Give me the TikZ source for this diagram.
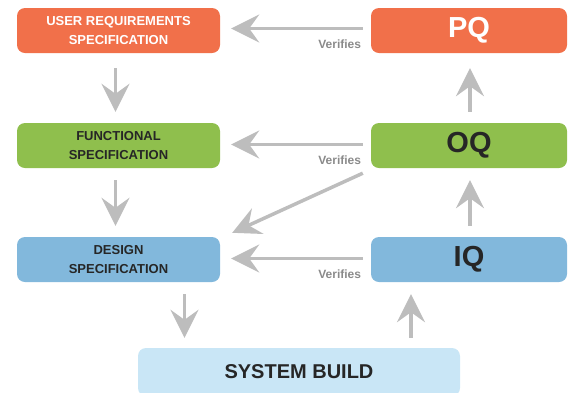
\documentclass[tikz,border=0pt]{standalone}
\usepackage{fontspec}
\setmainfont{Liberation Sans}
\usetikzlibrary{arrows.meta}
\definecolor{ursorange}{HTML}{F1704A}
\definecolor{specgreen}{HTML}{8FBF4D}
\definecolor{designblue}{HTML}{82B8DC}
\definecolor{buildblue}{HTML}{C9E6F6}
\definecolor{arrowgray}{HTML}{BDBDBD}
\definecolor{labelgray}{HTML}{8A8A8A}
\begin{document}
\begin{tikzpicture}[x=1pt,y=-1pt,
    box/.style={rounded corners=8pt, minimum height=45pt, inner sep=0pt,
      align=center, font=\bfseries, text=black!85},
    leftbox/.style={box, minimum width=203pt, font=\bfseries\fontsize{13}{19}\selectfont},
    rightbox/.style={box, minimum width=196pt, font=\bfseries\fontsize{29}{31}\selectfont},
    flow/.style={draw=arrowgray, line width=3.5pt,
      -{Stealth[length=28pt, width=28pt, inset=10pt]}},
    verifies/.style={pos=0, anchor=north east, yshift=-10pt, inner sep=0pt,
      text=labelgray, font=\bfseries\fontsize{12}{14}\selectfont}]
  \useasboundingbox (0,0) rectangle (571,392);
  \draw
    (118.5,30.5) node[leftbox, fill=ursorange, text=white] (urs){USER REQUIREMENTS\\SPECIFICATION}
    (118.5,145.5) node[leftbox, fill=specgreen] (fs){FUNCTIONAL\\SPECIFICATION}
    (118.5,259.5) node[leftbox, fill=designblue] (ds){DESIGN\\SPECIFICATION}
    (469,30.5) node[rightbox, fill=ursorange, text=white] (pq){PQ}
    (469,145.5) node[rightbox, fill=specgreen] (oq){OQ}
    (469,259.5) node[rightbox, fill=designblue] (iq){IQ}
    (299,372) node[box, fill=buildblue, minimum width=322pt, minimum height=48pt,
      font=\bfseries\fontsize{20}{22}\selectfont] (build){SYSTEM BUILD};
  \begin{scope}[flow]
    \draw ([xshift=-8pt,yshift=2pt]pq.west) -- ([xshift=11pt,yshift=2pt]urs.east)
      node[verifies]{Verifies};
    \draw ([xshift=-8pt,yshift=1pt]oq.west) -- ([xshift=11pt,yshift=1pt]fs.east)
      node[verifies]{Verifies};
    \draw ([xshift=-8pt,yshift=1pt]iq.west) -- ([xshift=11pt,yshift=1pt]ds.east)
      node[verifies]{Verifies};
    \draw ([xshift=-8pt,yshift=-5pt]oq.south west) -- ([xshift=12pt,yshift=4pt]ds.north east);
    \draw[shorten <=15pt, shorten >=11pt] ([xshift=-3pt]urs.south) -- ([xshift=-3pt]fs.north);
    \draw[shorten <=12pt, shorten >=11pt] ([xshift=-3pt]fs.south) -- ([xshift=-3pt]ds.north);
    \draw[shorten <=11pt, shorten >=15pt] ([xshift=1pt]oq.north) -- ([xshift=1pt]pq.south);
    \draw[shorten <=11pt, shorten >=12pt] ([xshift=1pt]iq.north) -- ([xshift=1pt]oq.south);
    \draw[shorten <=12pt, shorten >=10pt] ([xshift=66pt]ds.south) -- ([xshift=66pt]ds.south |- build.north);
    \draw[shorten <=10pt, shorten >=12pt] ([xshift=-58pt]iq.south |- build.north) -- ([xshift=-58pt]iq.south);
  \end{scope}
\end{tikzpicture}
\end{document}
